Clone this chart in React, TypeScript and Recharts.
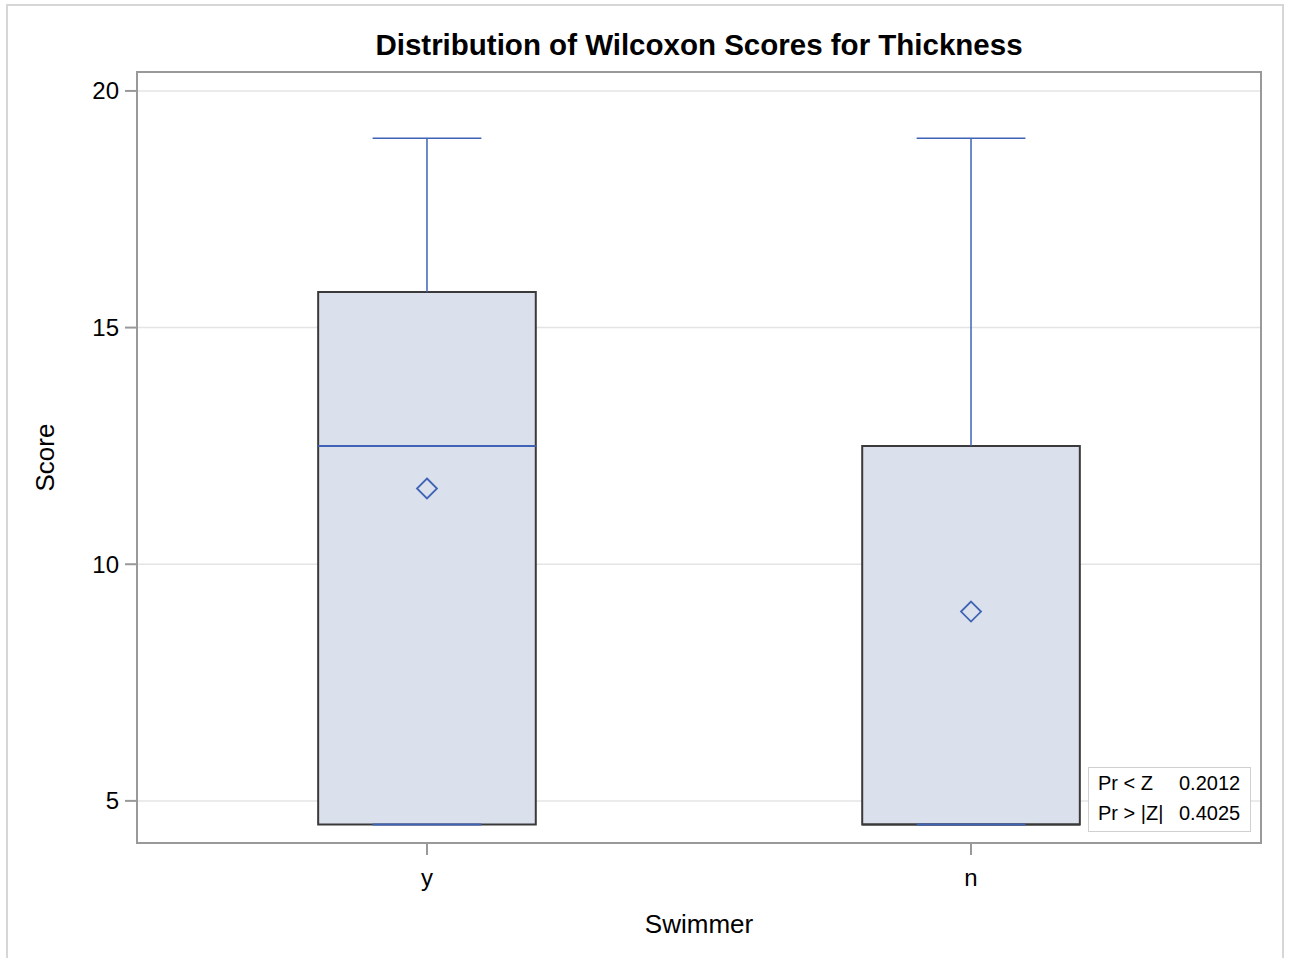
import { ComposedChart, XAxis, YAxis, CartesianGrid, ReferenceArea, ReferenceLine, Scatter } from 'recharts';

const categories = ['y', 'n'];
const q1 = [4.5, 4.5];
const median = [12.5, 4.5];
const q3 = [15.75, 12.5];
const mean = [11.6, 9.0];
const whiskerLow = [4.5, 4.5];
const whiskerHigh = [19, 19];
const yTicks = [5, 10, 15, 20];
const statLabels = ['Pr < Z', 'Pr > |Z|'];
const statValues = ['0.2012', '0.4025'];

const FONT = '"Liberation Sans", Arial, Helvetica, sans-serif';
const BOX_HALF = 0.2;
const CAP_HALF = 0.1;
const X_DOMAIN: [number, number] = [0.467, 2.533];
const Y_DOMAIN: [number, number] = [4.11, 20.4];
const BLUE = '#3f63b5';

const meanPoints = categories.map((c, i) => ({ x: i + 1, y: mean[i], name: c }));

const Diamond = (props: any) => {
  const { cx, cy } = props;
  const r = 10;
  return (
    <path
      d={`M${cx},${cy - r}L${cx + r},${cy}L${cx},${cy + r}L${cx - r},${cy}Z`}
      fill="none"
      stroke={BLUE}
      strokeWidth={1.8}
    />
  );
};

const ScoreLabel = (props: any) => {
  const { x, y, height } = props.viewBox;
  const cx = x + 38;
  const cy = y + height / 2;
  return (
    <text x={cx} y={cy} transform={`rotate(-90 ${cx} ${cy})`} textAnchor="middle" dominantBaseline="central" fontSize={26} fontFamily={FONT} fill="#000">
      Score
    </text>
  );
};

const SwimmerLabel = (props: any) => {
  const { x, y, width } = props.viewBox;
  return (
    <text x={x + width / 2} y={y + 81} textAnchor="middle" dominantBaseline="central" fontSize={26} fontFamily={FONT} fill="#000">
      Swimmer
    </text>
  );
};

export default function App() {
  return (
    <div style={{ position: 'absolute', left: 0, top: 0, width: 1289, height: 958, background: '#fff', overflow: 'hidden', fontFamily: FONT }}>
      <div style={{ position: 'absolute', left: 6, top: 4, width: 1274, height: 1000, borderLeft: '2px solid #d6d6d6', borderTop: '2px solid #d6d6d6', borderRight: '2px solid #d6d6d6' }} />
      <div style={{ position: 'absolute', left: 137, width: 1124, top: 28, textAlign: 'center', fontSize: 29.5, fontWeight: 'bold', lineHeight: '34px', color: '#000' }}>
        Distribution of Wilcoxon Scores for Thickness
      </div>
      <ComposedChart width={1289} height={958} margin={{ top: 72, right: 28, bottom: 55, left: 7 }} style={{ position: 'absolute', left: 0, top: 0 }}>
        <CartesianGrid horizontal vertical={false} stroke="#e4e4e4" strokeWidth={1.5} />
        <XAxis
          type="number"
          dataKey="x"
          domain={X_DOMAIN}
          ticks={[1, 2]}
          allowDataOverflow
          tickFormatter={(v: number) => categories[v - 1]}
          tickSize={12}
          tickMargin={14}
          height={60}
          axisLine={{ stroke: '#999', strokeWidth: 2 }}
          tickLine={{ stroke: '#999', strokeWidth: 2 }}
          tick={{ fill: '#000', fontSize: 24, fontFamily: FONT }}
          label={<SwimmerLabel />}
        />
        <YAxis
          type="number"
          dataKey="y"
          domain={Y_DOMAIN}
          ticks={yTicks}
          allowDataOverflow
          width={130}
          tickSize={12}
          tickMargin={6}
          axisLine={{ stroke: '#999', strokeWidth: 2 }}
          tickLine={{ stroke: '#999', strokeWidth: 2 }}
          tick={{ fill: '#000', fontSize: 24, fontFamily: FONT }}
          label={<ScoreLabel />}
        />
        {categories.map((c, i) => (
          <ReferenceArea
            key={`box-${c}`}
            x1={i + 1 - BOX_HALF}
            x2={i + 1 + BOX_HALF}
            y1={q1[i]}
            y2={q3[i]}
            fill="#dae0ec"
            fillOpacity={1}
            stroke="#3a3a3a"
            strokeWidth={2}
          />
        ))}
        {categories.map((c, i) => (
          <ReferenceLine
            key={`med-${c}`}
            segment={[{ x: i + 1 - BOX_HALF, y: median[i] }, { x: i + 1 + BOX_HALF, y: median[i] }]}
            stroke={median[i] === q1[i] ? '#3a3a3a' : BLUE}
            strokeWidth={2}
          />
        ))}
        {categories.map((c, i) => (
          <ReferenceLine
            key={`wh-${c}`}
            segment={[{ x: i + 1, y: q3[i] }, { x: i + 1, y: whiskerHigh[i] }]}
            stroke={BLUE}
            strokeWidth={1.5}
          />
        ))}
        {categories.map((c, i) => (
          <ReferenceLine
            key={`caphi-${c}`}
            segment={[{ x: i + 1 - CAP_HALF, y: whiskerHigh[i] }, { x: i + 1 + CAP_HALF, y: whiskerHigh[i] }]}
            stroke={BLUE}
            strokeWidth={1.5}
          />
        ))}
        {categories.map((c, i) => (
          <ReferenceLine
            key={`caplo-${c}`}
            segment={[{ x: i + 1 - CAP_HALF, y: whiskerLow[i] }, { x: i + 1 + CAP_HALF, y: whiskerLow[i] }]}
            stroke={BLUE}
            strokeWidth={2}
          />
        ))}
        <ReferenceArea x1={X_DOMAIN[0]} x2={X_DOMAIN[1]} y1={Y_DOMAIN[0]} y2={Y_DOMAIN[1]} fill="none" stroke="#999" strokeWidth={2} />
        <Scatter data={meanPoints} dataKey="y" shape={<Diamond />} isAnimationActive={false} />
      </ComposedChart>
      <div style={{ position: 'absolute', left: 1088, top: 767, width: 161, height: 63, border: '1.5px solid #d0d0d0', background: '#fff', fontSize: 20, color: '#000' }}>
        {statLabels.map((l, i) => (
          <div key={l} style={{ position: 'absolute', top: 0 + i * 30, height: 30, lineHeight: '30px', left: 9, width: 150 }}>
            <span style={{ position: 'absolute', left: 0 }}>{l}</span>
            <span style={{ position: 'absolute', left: 81 }}>{statValues[i]}</span>
          </div>
        ))}
      </div>
    </div>
  );
}
